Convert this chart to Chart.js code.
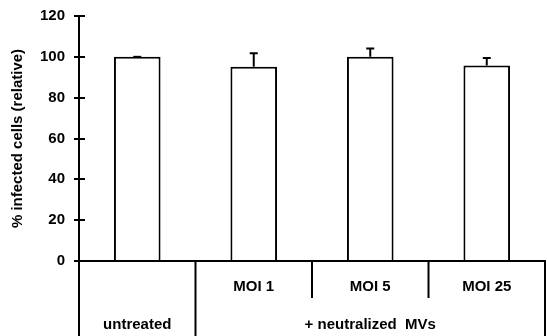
<!DOCTYPE html>
<html>
<head>
<meta charset="utf-8">
<script src="https://cdn.jsdelivr.net/npm/chart.js@4/dist/chart.umd.min.js"></script>
<style>
html,body{margin:0;padding:0;background:#fff;}
#wrap{width:547px;height:336px;position:relative;}
</style>
</head>
<body>
<div id="wrap"><canvas id="c" width="547" height="336"></canvas></div>
<script>
const categories = ['untreated', 'MOI 1', 'MOI 5', 'MOI 25'];
const values = [100, 95.2, 100, 95.7];
const errors = [0, 6.6, 4.1, 3.7];
const yTicks = [0, 20, 40, 60, 80, 100, 120];
const rowOneLabels = ['', 'MOI 1', 'MOI 5', 'MOI 25'];
const rowTwoFirst = 'untreated';
const groupLabel = '+ neutralized  MVs';
const yTitle = '% infected cells (relative)';

const FONT = "'Liberation Sans', Arial, sans-serif";
const FS = 15;

const errorBars = {
  id: 'errorBars',
  afterDatasetsDraw(chart) {
    const ctx = chart.ctx, y = chart.scales.y;
    const meta = chart.getDatasetMeta(0);
    ctx.save();
    ctx.strokeStyle = '#000';
    ctx.lineWidth = 2;
    meta.data.forEach((bar, i) => {
      const x = bar.x;
      const yb = y.getPixelForValue(values[i]);
      const yt = y.getPixelForValue(values[i] + errors[i]);
      ctx.beginPath();
      ctx.moveTo(x, yb); ctx.lineTo(x, yt);
      ctx.moveTo(x - 4, yt); ctx.lineTo(x + 4, yt);
      ctx.stroke();
    });
    ctx.restore();
  }
};

const tablePlugin = {
  id: 'tablePlugin',
  afterDraw(chart) {
    const ctx = chart.ctx, xs = chart.scales.x, ys = chart.scales.y;
    const a = chart.chartArea;
    const H = chart.height;
    const cx = categories.map((_, i) => xs.getPixelForValue(i));
    const b = [a.left];
    for (let i = 0; i < cx.length - 1; i++) b.push((cx[i] + cx[i + 1]) / 2);
    b.push(a.right);
    ctx.save();
    ctx.strokeStyle = '#000';
    ctx.lineWidth = 2;
    ctx.beginPath();
    yTicks.forEach(v => {
      const py = Math.round(ys.getPixelForValue(v));
      ctx.moveTo(a.left, py); ctx.lineTo(a.left + 6, py);
    });
    const rowDiv = a.bottom + 37;
    ctx.moveTo(b[0], a.bottom); ctx.lineTo(b[0], H);
    ctx.moveTo(b[1], a.bottom); ctx.lineTo(b[1], H);
    for (let i = 2; i < b.length - 1; i++) { ctx.moveTo(b[i], a.bottom); ctx.lineTo(b[i], rowDiv); }
    ctx.moveTo(b[b.length - 1], a.bottom - 1); ctx.lineTo(b[b.length - 1], H);
    ctx.moveTo(a.left - 1, a.bottom); ctx.lineTo(a.right, a.bottom);
    ctx.stroke();
    ctx.fillStyle = '#000';
    ctx.font = 'bold ' + FS + 'px ' + FONT;
    ctx.textAlign = 'center';
    ctx.textBaseline = 'middle';
    rowOneLabels.forEach((t, i) => { if (t) ctx.fillText(t, cx[i], a.bottom + 26); });
    ctx.fillText(rowTwoFirst, cx[0], a.bottom + 64);
    ctx.fillText(groupLabel, (b[1] + b[b.length - 1]) / 2, a.bottom + 64);
    ctx.restore();
  }
};

new Chart(document.getElementById('c'), {
  type: 'bar',
  data: {
    labels: categories,
    datasets: [{
      data: values,
      backgroundColor: '#fff',
      borderColor: '#000',
      borderWidth: 2,
      barPercentage: 0.4,
      categoryPercentage: 1
    }]
  },
  options: {
    responsive: false,
    animation: false,
    devicePixelRatio: 1,
    layout: { padding: { top: 0, right: 2, left: 0, bottom: 0 } },
    plugins: { legend: { display: false }, tooltip: { enabled: false } },
    scales: {
      x: {
        ticks: { display: false },
        grid: { display: false },
        border: { display: true, color: '#000', width: 2 },
        afterFit(s) { s.height = 75; }
      },
      y: {
        min: 0, max: 120,
        afterBuildTicks(s) { s.ticks = yTicks.map(v => ({ value: v })); },
        ticks: { color: '#000', font: { family: FONT, weight: 'bold', size: FS }, padding: 9 },
        grid: { drawOnChartArea: false, drawTicks: true, tickLength: 5, color: '#000', lineWidth: 2 },
        border: { color: '#000', width: 2 },
        title: { display: true, text: yTitle, color: '#000', font: { family: FONT, weight: 'bold', size: FS }, padding: { top: 9, bottom: 0 } },
        afterFit(s) { s.width = 79; s.paddingTop = 16; s.paddingBottom = 0; }
      }
    }
  },
  plugins: [errorBars, tablePlugin]
});
</script>
</body>
</html>
